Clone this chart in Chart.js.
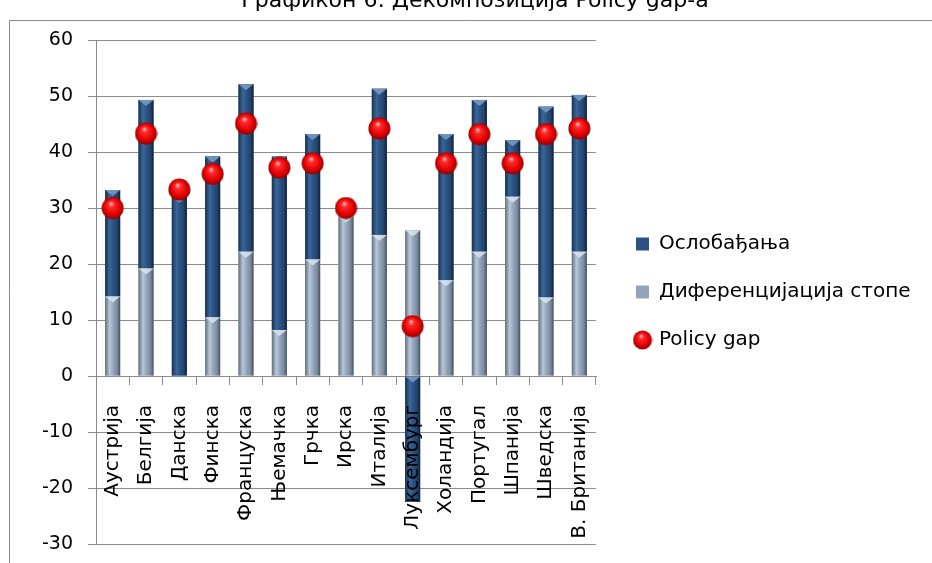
<!DOCTYPE html>
<html>
<head>
<meta charset="utf-8">
<script src="https://cdn.jsdelivr.net/npm/chart.js@4.4.1/dist/chart.umd.min.js"></script>
<style>
  html, body { margin: 0; padding: 0; background: #fff; }
  #wrap { position: relative; width: 932px; height: 563px; }
</style>
</head>
<body>
<div id="wrap"><canvas id="chart" width="932" height="563"></canvas></div>
<script>
// Countries on the category axis
const countries = ['Аустрија', 'Белгија', 'Данска', 'Финска', 'Француска', 'Њемачка', 'Грчка', 'Ирска',
  'Италија', 'Луксембург', 'Холандија', 'Португал', 'Шпанија', 'Шведска', 'В. Британија'];

// Stacked components (percentage points)
const rateDifferentiation = [14.2, 19.2, 0, 10.5, 22.2, 8.2, 20.8, 28.5, 25.2, 26.0, 17.1, 22.2, 32.0, 14.0, 22.2];
const exemptions = [19.0, 30.1, 32.0, 28.7, 29.9, 31.0, 22.4, 0, 26.1, -22.5, 26.1, 27.1, 10.1, 34.1, 28.0];

// Total policy gap
const policyGap = [30.0, 43.3, 33.3, 36.1, 45.1, 37.2, 38.0, 30.0, 44.2, 8.9, 38.0, 43.2, 38.0, 43.2, 44.2];

// Value axis range
const yMin = -30, yMax = 60, yStep = 10;

const titleText = 'Графикон 6: Декомпозиција Policy gap-а';
const seriesNames = ['Диференцијација стопе', 'Ослобађања', 'Policy gap'];

const FONT = 'DejaVu Sans';
const LEGEND_FONT_SIZE = 20;
const LEGEND_PAD = 28;
const LEGEND_BOX = 13;
const PLOT_RIGHT = 596;
const SPACER = 12;

// Legend is as wide as its longest entry; right padding places it just after the spacer axis
const measureCtx = document.createElement('canvas').getContext('2d');
measureCtx.font = LEGEND_FONT_SIZE + 'px "' + FONT + '"';
const widestLabel = Math.max(...seriesNames.map(s => measureCtx.measureText(s).width));
const legendWidth = LEGEND_PAD + LEGEND_BOX + LEGEND_FONT_SIZE / 2 + widestLabel + 10;
const rightPad = Math.max(0, 932 - PLOT_RIGHT - SPACER - legendWidth);

// Scales must not push the plot area inward beyond the layout padding
function noScalePadding(s) {
  s.paddingTop = 0;
  s.paddingBottom = 0;
}

// Glossy red ball used as the point marker
function makeSphere(d) {
  const c = document.createElement('canvas');
  c.width = c.height = d;
  const g = c.getContext('2d');
  const r = d / 2;
  const grad = g.createRadialGradient(r * 0.85, r * 0.6, r * 0.05, r, r, r);
  grad.addColorStop(0, '#ffb0b0');
  grad.addColorStop(0.22, '#ff2a2a');
  grad.addColorStop(0.7, '#e00000');
  grad.addColorStop(1, '#8c0000');
  g.fillStyle = grad;
  g.beginPath();
  g.arc(r, r, r - 0.5, 0, Math.PI * 2);
  g.fill();
  return c;
}
const ballChart = makeSphere(23);
const ballLegend = makeSphere(20);

// Cylinder-like shading for the stacked bars
const shading = {
  0: { stops: ['#5f6f83', '#b9c7d8', '#93a4b9', '#7a8aa0', '#46515f'], cap: '#d9e3ef' },
  1: { stops: ['#18304f', '#3a6699', '#2b5282', '#22436d', '#0f2038'], cap: '#7b9cc6' }
};

const barShading = {
  id: 'barShading',
  afterDatasetDraw(chart, args) {
    const meta = args.meta;
    if (meta.type !== 'bar') return;
    const pal = shading[meta.index];
    const ctx = chart.ctx;
    ctx.save();
    meta.data.forEach(bar => {
      const p = bar.getProps(['x', 'y', 'base', 'width'], true);
      const top = Math.min(p.y, p.base), bottom = Math.max(p.y, p.base);
      const h = bottom - top;
      if (h < 0.5) return;
      const left = p.x - p.width / 2;
      const g = ctx.createLinearGradient(left, 0, left + p.width, 0);
      g.addColorStop(0, pal.stops[0]);
      g.addColorStop(0.3, pal.stops[1]);
      g.addColorStop(0.55, pal.stops[2]);
      g.addColorStop(0.8, pal.stops[3]);
      g.addColorStop(1, pal.stops[4]);
      ctx.fillStyle = g;
      ctx.fillRect(left, top, p.width, h);
      const cap = Math.min(6, h);
      ctx.fillStyle = pal.cap;
      ctx.globalAlpha = 0.85;
      ctx.beginPath();
      ctx.moveTo(left, top);
      ctx.lineTo(left + p.width, top);
      ctx.lineTo(p.x, top + cap);
      ctx.closePath();
      ctx.fill();
      ctx.globalAlpha = 1;
    });
    ctx.restore();
  }
};

// Outer frame and the heading
const frameAndTitle = {
  id: 'frameAndTitle',
  beforeDraw(chart) {
    const ctx = chart.ctx;
    ctx.save();
    ctx.strokeStyle = '#8a8a8a';
    ctx.lineWidth = 1;
    ctx.beginPath();
    ctx.moveTo(9.5, 563);
    ctx.lineTo(9.5, 20.5);
    ctx.lineTo(932, 20.5);
    ctx.stroke();
    ctx.fillStyle = '#000';
    ctx.font = '22px "' + FONT + '"';
    ctx.textAlign = 'center';
    ctx.textBaseline = 'alphabetic';
    ctx.fillText(titleText, 475, 7);
    ctx.restore();
  }
};

const legendOrder = { 'Ослобађања': 0, 'Диференцијација стопе': 1, 'Policy gap': 2 };

new Chart(document.getElementById('chart'), {
  data: {
    labels: countries,
    datasets: [
      {
        type: 'bar',
        label: seriesNames[0],
        data: rateDifferentiation,
        backgroundColor: '#93a4b9',
        borderWidth: 0,
        pointStyle: 'rect',
        barPercentage: 0.45,
        categoryPercentage: 1.0,
        order: 0
      },
      {
        type: 'bar',
        label: seriesNames[1],
        data: exemptions,
        backgroundColor: '#2b5282',
        borderWidth: 0,
        pointStyle: 'rect',
        barPercentage: 0.45,
        categoryPercentage: 1.0,
        order: 0
      },
      {
        type: 'line',
        label: seriesNames[2],
        data: policyGap,
        showLine: false,
        stack: 'gap',
        pointStyle: ballChart,
        pointRadius: 11,
        backgroundColor: '#ff0000',
        borderColor: '#ff0000',
        order: -1
      }
    ]
  },
  options: {
    responsive: false,
    animation: false,
    events: [],
    layout: { padding: { left: 0, right: rightPad, top: 40, bottom: 19 } },
    scales: {
      x: {
        type: 'category',
        stacked: true,
        position: { y: 0 },
        offset: true,
        grid: { display: true, drawOnChartArea: false, drawTicks: true, tickLength: 8, color: '#8c8c8c', offset: true },
        border: { display: true, color: '#8c8c8c' },
        ticks: {
          z: 1,
          minRotation: 90, maxRotation: 90, autoSkip: false,
          padding: 21, color: '#000',
          font: { family: FONT, size: 20 }
        },
        afterFit: noScalePadding
      },
      y: {
        type: 'linear',
        stacked: true,
        position: 'left',
        min: yMin, max: yMax,
        grid: { color: '#8c8c8c', tickLength: 8, drawTicks: true },
        border: { display: true, color: '#8c8c8c' },
        ticks: { stepSize: yStep, padding: 15, color: '#000', font: { family: FONT, size: 19 } },
        afterFit(s) { s.width = 96; noScalePadding(s); }
      },
      spacer: {
        type: 'linear',
        axis: 'y',
        position: 'right',
        display: true,
        grid: { display: false, drawTicks: false },
        border: { display: false },
        ticks: { display: false },
        afterFit(s) { s.width = SPACER; noScalePadding(s); }
      }
    },
    plugins: {
      tooltip: { enabled: false },
      title: { display: false },
      legend: {
        display: true,
        position: 'right',
        maxWidth: Math.ceil(legendWidth) + 2,
        labels: {
          usePointStyle: true,
          boxWidth: LEGEND_BOX,
          boxHeight: LEGEND_BOX,
          padding: LEGEND_PAD,
          color: '#000',
          font: { family: FONT, size: LEGEND_FONT_SIZE },
          generateLabels(chart) {
            const items = Chart.defaults.plugins.legend.labels.generateLabels(chart);
            items.forEach(it => {
              it.lineWidth = 0;
              if (it.text === 'Policy gap') it.pointStyle = ballLegend;
            });
            return items;
          },
          sort(a, b) { return legendOrder[a.text] - legendOrder[b.text]; }
        }
      }
    }
  },
  plugins: [frameAndTitle, barShading]
});
</script>
</body>
</html>
